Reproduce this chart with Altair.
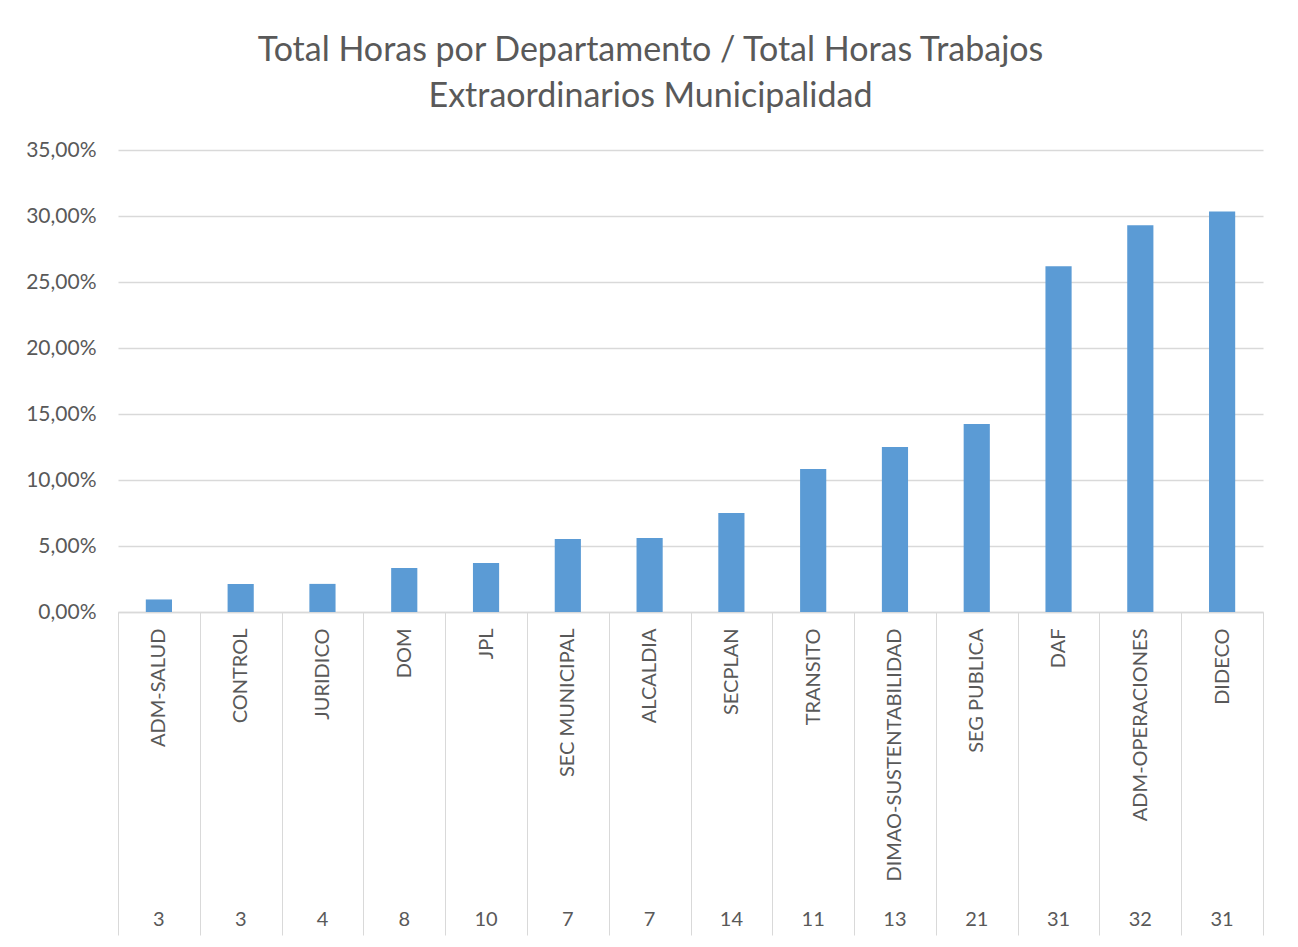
import altair as alt
import pandas as pd

departamentos = ["ADM-SALUD", "CONTROL", "JURIDICO", "DOM", "JPL", "SEC MUNICIPAL",
                 "ALCALDIA", "SECPLAN", "TRANSITO", "DIMAO-SUSTENTABILIDAD",
                 "SEG PUBLICA", "DAF", "ADM-OPERACIONES", "DIDECO"]
porcentajes = [0.0095, 0.0212, 0.0213, 0.0334, 0.0372, 0.0553, 0.0561, 0.0750,
               0.1083, 0.1250, 0.1425, 0.2620, 0.2930, 0.3035]
cantidades = [3, 3, 4, 8, 10, 7, 7, 14, 11, 13, 21, 31, 32, 31]
y_ticks = [0, 0.05, 0.10, 0.15, 0.20, 0.25, 0.30, 0.35]

df = pd.DataFrame({"dep": departamentos, "pct": porcentajes, "n": cantidades})

W, H = 1145, 462
FONT = "Lato"
GREY = "#595959"
TICK = 323

x_enc = alt.X(
    "dep:N", sort=departamentos, title=None,
    scale=alt.Scale(paddingInner=0, paddingOuter=0),
    axis=alt.Axis(
        labelAngle=270, labelAlign="right", labelBaseline="middle",
        labelPadding=16 - TICK, labelFontSize=20, labelColor=GREY, labelFont=FONT,
        labelLimit=400,
        tickBand="extent", tickSize=TICK, tickColor="#D9D9D9", tickWidth=1,
        domainColor="#D9D9D9", domainWidth=1.5,
    ),
)

bars = alt.Chart(df).mark_bar(color="#5B9BD5", width=alt.RelativeBandSize(0.32)).encode(
    x=x_enc,
    y=alt.Y("pct:Q", title=None,
            scale=alt.Scale(domain=[0, 0.35], nice=False),
            axis=alt.Axis(values=y_ticks, labelExpr="replace(format(datum.value, '.2%'), '.', ',')",
                          labelFontSize=21, labelColor=GREY, labelFont=FONT, labelPadding=22,
                          domain=False, ticks=False, gridColor="#D9D9D9", gridWidth=1.5)),
)

numeros = alt.Chart(df).mark_text(fontSize=20, color=GREY, font=FONT, baseline="middle").encode(
    x=alt.X("dep:N", sort=departamentos),
    y=alt.value(H + 308),
    text="n:N",
)

chart = alt.layer(bars, numeros).properties(
    width=W, height=H,
    title=alt.Title(
        ["Total Horas por Departamento / Total Horas Trabajos", "Extraordinarios Municipalidad"],
        fontSize=34, font=FONT, fontWeight="normal", color=GREY, anchor="middle",
        dx=-40, offset=25, lineHeight=46,
    ),
    autosize=alt.AutoSizeParams(type="none"),
    padding={"left": 110, "top": 142, "right": 27, "bottom": 330},
    background="white",
).configure_view(stroke=None)

chart.save("out.html", embed_options={"renderer": "svg", "actions": False})
